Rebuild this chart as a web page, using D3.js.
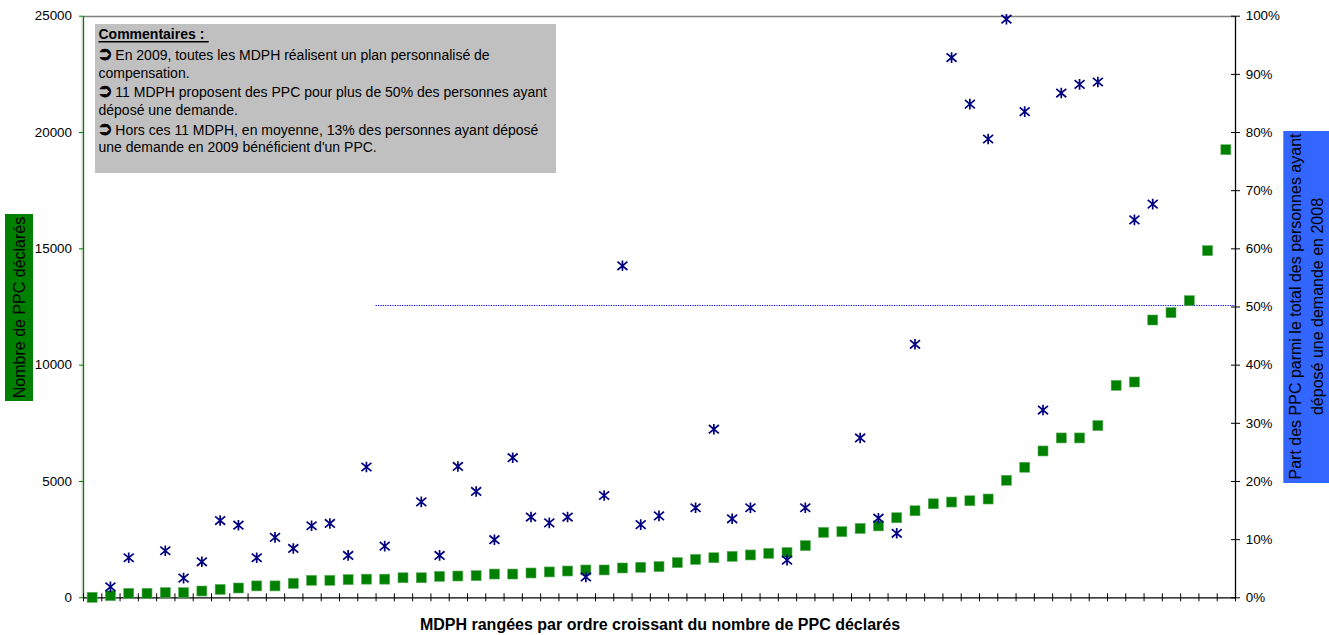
<!DOCTYPE html>
<html>
<head>
<meta charset="utf-8">
<script src="https://cdn.jsdelivr.net/npm/d3@7/dist/d3.min.js"></script>
<style>
  html, body { margin: 0; padding: 0; background: #fff; }
  svg { display: block; font-family: "Liberation Sans", Arial, sans-serif; }
</style>
</head>
<body>
<svg id="chart" width="1329" height="635"></svg>
<script>
// ---- Data ----
const categories = ["1","2","3","4","5","6","7","8","9","10","11","12","13","14","15","16","17","18","19","20",
  "21","22","23","24","25","26","27","28","29","30","31","32","33","34","35","36","37","38","39","40",
  "41","42","43","44","45","46","47","48","49","50","51","52","53","54","55","56","57","58","59","60",
  "61","62","63"];

// Nombre de PPC déclarés (left axis)
const ppcCounts = [0, 70, 170, 170, 200, 200, 270, 340, 400, 490,
  490, 600, 730, 730, 760, 780, 780, 840, 840, 900,
  915, 930, 1000, 1000, 1045, 1090, 1130, 1175, 1175, 1260,
  1290, 1320, 1490, 1630, 1700, 1760, 1820, 1890, 1920, 2220,
  2790, 2820, 2960, 3070, 3420, 3720, 4020, 4095, 4150, 4225,
  5030, 5590, 6290, 6850, 6850, 7380, 9110, 9255, 11920, 12235,
  12750, 14900, 19240];

// Part des PPC parmi le total des personnes ayant déposé une demande en 2008 (%) (right axis)
const ppcShare = [null, 1.8, 6.8, null, 8.0, 3.3, 6.1, 13.2, 12.4, 6.8,
  10.3, 8.4, 12.3, 12.7, 7.2, 22.4, 8.8, null, 16.4, 7.2,
  22.5, 18.2, 9.9, 24.0, 13.8, 12.8, 13.8, 3.5, 17.5, 57.0,
  12.5, 14.0, null, 15.4, 28.9, 13.5, 15.4, null, 6.4, 15.4,
  null, null, 27.4, 13.6, 11.0, 43.5, null, 92.8, 84.8, 78.8,
  99.4, 83.5, 32.2, 86.7, 88.2, 88.6, null, 64.9, 67.6, null,
  null, null, null];

const leftTicks = [0, 5000, 10000, 15000, 20000, 25000];
const rightTicks = [0, 10, 20, 30, 40, 50, 60, 70, 80, 90, 100];
const refLineValue = 50;      // 50% reference line
const refLineStartIndex = 16; // starts at this category boundary

const commentTitle = "Commentaires :";
const commentLines = [
  { arrow: true,  text: "En 2009, toutes les MDPH réalisent un plan personnalisé de" },
  { arrow: false, text: "compensation." },
  { arrow: true,  text: "11 MDPH proposent des PPC pour plus de 50% des personnes ayant" },
  { arrow: false, text: "déposé une demande." },
  { arrow: true,  text: "Hors ces 11 MDPH, en moyenne, 13% des personnes ayant déposé" },
  { arrow: false, text: "une demande en 2009 bénéficient d'un PPC." }
];
const leftTitle = "Nombre de PPC déclarés";
const rightTitleLines = ["Part des PPC parmi le total des personnes ayant", "déposé une demande en 2008"];
const xTitle = "MDPH rangées par ordre croissant du nombre de PPC déclarés";

// ---- Layout ----
const svg = d3.select("#chart");
const plot = { left: 83, right: 1235, top: 15.7, bottom: 597.3 };

const x = d3.scaleBand().domain(categories).range([plot.left, plot.right]).padding(0);
const xEdge = d3.scaleLinear().domain([0, categories.length]).range([plot.left, plot.right]);
const yLeft = d3.scaleLinear().domain([0, 25000]).range([plot.bottom, plot.top]);
const yRight = d3.scaleLinear().domain([0, 100]).range([plot.bottom, plot.top]);

// top plot border
svg.append("line")
  .attr("x1", plot.left).attr("x2", plot.right)
  .attr("y1", Math.round(plot.top) + 0.5).attr("y2", Math.round(plot.top) + 0.5)
  .attr("stroke", "#808080").attr("stroke-width", 1.3);

// light grey left border of plot area
svg.append("line")
  .attr("x1", plot.left - 1).attr("x2", plot.left - 1)
  .attr("y1", plot.top).attr("y2", plot.bottom)
  .attr("stroke", "#d0d0d0").attr("stroke-width", 1);

// Comment box
const cb = svg.append("g");
cb.append("rect").attr("x", 95).attr("y", 24).attr("width", 461).attr("height", 149).attr("fill", "#c0c0c0");
cb.append("text").attr("x", 98.5).attr("y", 39).attr("font-size", 14).attr("font-weight", "bold")
  .attr("fill", "#000").text(commentTitle);
cb.append("line").attr("x1", 98.5).attr("x2", 208.7).attr("y1", 41.8).attr("y2", 41.8)
  .attr("stroke", "#000").attr("stroke-width", 1.4);
const baselines = [60, 77.5, 97.3, 114.5, 135, 152.3];
commentLines.forEach((l, i) => {
  if (l.arrow) {
    cb.append("text").attr("x", 97).attr("y", baselines[i])
      .attr("font-family", "DejaVu Sans, sans-serif").attr("font-size", 19)
      .attr("fill", "#000").attr("stroke", "#000").attr("stroke-width", 0.6).text("\u27B2");
    cb.append("text").attr("x", 115.3).attr("y", baselines[i]).attr("font-size", 14)
      .attr("fill", "#000").text(l.text);
  } else {
    cb.append("text").attr("x", 98.5).attr("y", baselines[i]).attr("font-size", 14)
      .attr("fill", "#000").text(l.text);
  }
});

// 50% reference dotted line
const refY = Math.round(yRight(refLineValue)) - 1.5;
svg.append("line")
  .attr("x1", xEdge(refLineStartIndex)).attr("x2", plot.right)
  .attr("y1", refY).attr("y2", refY)
  .attr("stroke", "#0000ff").attr("stroke-width", 1.1).attr("stroke-dasharray", "1.2,1.2");

// Left axis (green)
const gLeft = svg.append("g").attr("transform", `translate(${plot.left},0)`)
  .call(d3.axisLeft(yLeft).tickValues(leftTicks).tickSize(4).tickPadding(7).tickSizeOuter(0).tickFormat(d => d));
gLeft.select(".domain").attr("stroke", "#008000").attr("stroke-width", 1.3);
gLeft.selectAll(".tick line").attr("stroke", "#008000");
gLeft.selectAll(".tick text").attr("font-size", 13.4).attr("fill", "#000")
  .attr("font-family", "Liberation Sans, Arial, sans-serif");

// Right axis (black)
const gRight = svg.append("g").attr("transform", `translate(${plot.right},0)`)
  .call(d3.axisRight(yRight).tickValues(rightTicks).tickSize(5).tickPadding(5.7).tickSizeOuter(0).tickFormat(d => d + "%"));
gRight.select(".domain").attr("stroke", "#000").attr("stroke-width", 1.3);
gRight.selectAll(".tick line").attr("x1", -4).attr("stroke", "#000");
gRight.selectAll(".tick text").attr("font-size", 13.4).attr("fill", "#000")
  .attr("font-family", "Liberation Sans, Arial, sans-serif");

// Bottom axis (black, crossing ticks at category boundaries)
const gBottom = svg.append("g").attr("transform", `translate(0,${plot.bottom})`)
  .call(d3.axisBottom(xEdge).tickValues(d3.range(0, categories.length + 1)).tickSize(4).tickSizeOuter(0).tickFormat(""));
gBottom.select(".domain").attr("stroke", "#000").attr("stroke-width", 1.3);
gBottom.selectAll(".tick line").attr("y1", -4).attr("stroke", "#000");

// Green squares (PPC count)
const sq = 10;
svg.append("g").selectAll("rect").data(ppcCounts).join("rect")
  .attr("x", (d, i) => x(categories[i]) + x.bandwidth() / 2 - sq / 2)
  .attr("y", d => yLeft(d) - sq / 2)
  .attr("width", sq).attr("height", sq)
  .attr("fill", "#008000")
  .attr("stroke", "#5fae5f").attr("stroke-width", 0.6);

// Navy asterisks (share)
const star = "M-5,-4.2L5,4.2M-5,4.2L5,-4.2M0,-5.3L0,5.3";
svg.append("g").selectAll("path")
  .data(ppcShare.map((v, i) => ({ v, c: categories[i] })).filter(d => d.v !== null))
  .join("path")
  .attr("transform", d => `translate(${x(d.c) + x.bandwidth() / 2},${yRight(d.v)})`)
  .attr("d", star)
  .attr("fill", "none").attr("stroke", "#000080").attr("stroke-width", 1.7);

// Left axis title (green box)
svg.append("rect").attr("x", 5).attr("y", 214).attr("width", 28).attr("height", 187).attr("fill", "#008000");
svg.append("text").attr("transform", "translate(19.5,307.5) rotate(-90)")
  .attr("text-anchor", "middle").attr("dy", "0.35em").attr("font-size", 16).attr("fill", "#000")
  .text(leftTitle);

// Right axis title (blue box)
svg.append("rect").attr("x", 1283.3).attr("y", 131).attr("width", 46).attr("height", 352).attr("fill", "#3366ff");
rightTitleLines.forEach((t, i) => {
  svg.append("text").attr("transform", `translate(${1295.5 + i * 21.5},306.5) rotate(-90)`)
    .attr("text-anchor", "middle").attr("dy", "0.35em").attr("font-size", 16).attr("fill", "#000")
    .text(t);
});

// X axis title
svg.append("text").attr("x", 660).attr("y", 629.5).attr("text-anchor", "middle")
  .attr("font-size", 16).attr("font-weight", "bold").attr("fill", "#000").text(xTitle);
</script>
</body>
</html>
